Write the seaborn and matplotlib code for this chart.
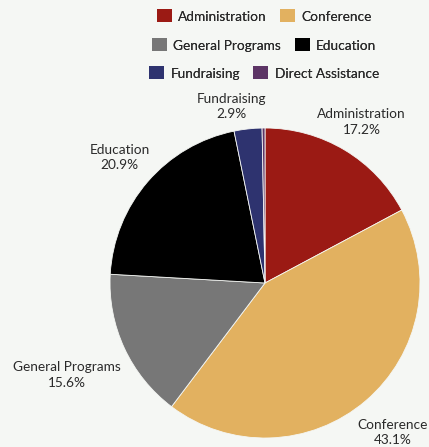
import numpy as np
import matplotlib
matplotlib.use("Agg")
import matplotlib.pyplot as plt
import seaborn as sns
from matplotlib.patches import Patch

categories = ["Administration", "Conference", "General Programs", "Education", "Fundraising", "Direct Assistance"]
values = [17.2, 43.1, 15.6, 20.9, 2.9, 0.3]
pct_labels = ["17.2%", "43.1%", "15.6%", "20.9%", "2.9%", ""]
colors = ["#9b1a14", "#e2b160", "#777777", "#000000", "#2e336f", "#5d3566"]
label_dist = [1.21, 1.27, 1.41, 1.24, 1.16, None]
label_rot = [0, 0, 0, 0, 4.5, 0]

BG = "#f5f7f4"
TXT = "#2a2a2a"

sns.set_theme(style="white")
plt.rcParams["font.family"] = ["Lato", "DejaVu Sans"]
palette = sns.color_palette(colors)

W, H = 429, 447
fig = plt.figure(figsize=(W / 100, H / 100), dpi=100, facecolor=BG)

cx, cy, r = 265, 283, 155
ax = fig.add_axes([(cx - r) / W, (H - cy - r) / H, 2 * r / W, 2 * r / H])
ax.set_facecolor(BG)
wedges, _ = ax.pie(values, colors=palette, startangle=90, counterclock=False,
                   radius=1.0, wedgeprops=dict(linewidth=0.6, edgecolor=BG))
ax.set_xlim(-1, 1)
ax.set_ylim(-1, 1)
ax.set_aspect("equal")
ax.axis("off")

# labels
total = sum(values)
cum = 0.0
for cat, v, p, d, rot in zip(categories, values, pct_labels, label_dist, label_rot):
    mid = cum + v / 2
    cum += v
    if d is None:
        continue
    ang = np.deg2rad(90 - 360 * mid / total + rot)
    x, y = d * np.cos(ang), d * np.sin(ang)
    ax.text(x, y, f"{cat}\n{p}", ha="center", va="center", fontsize=9.8,
            color=TXT, linespacing=1.35, clip_on=False)

# legend rows (each row centered independently)
rows = [(0, 1), (2, 3), (4, 5)]
row_y = [16, 45, 73]
for (i, j), yy in zip(rows, row_y):
    handles = [Patch(facecolor=palette[k], edgecolor="none") for k in (i, j)]
    leg = fig.legend(handles, [categories[i], categories[j]], ncol=2,
                     loc="center", bbox_to_anchor=(264 / W, 1 - yy / H),
                     frameon=False, fontsize=9.8, handlelength=1.1,
                     handleheight=1.1, handletextpad=0.45, columnspacing=1.0,
                     borderpad=0, labelcolor=TXT)
    fig.add_artist(leg)

fig.savefig("out.png", dpi=100, facecolor=BG)
